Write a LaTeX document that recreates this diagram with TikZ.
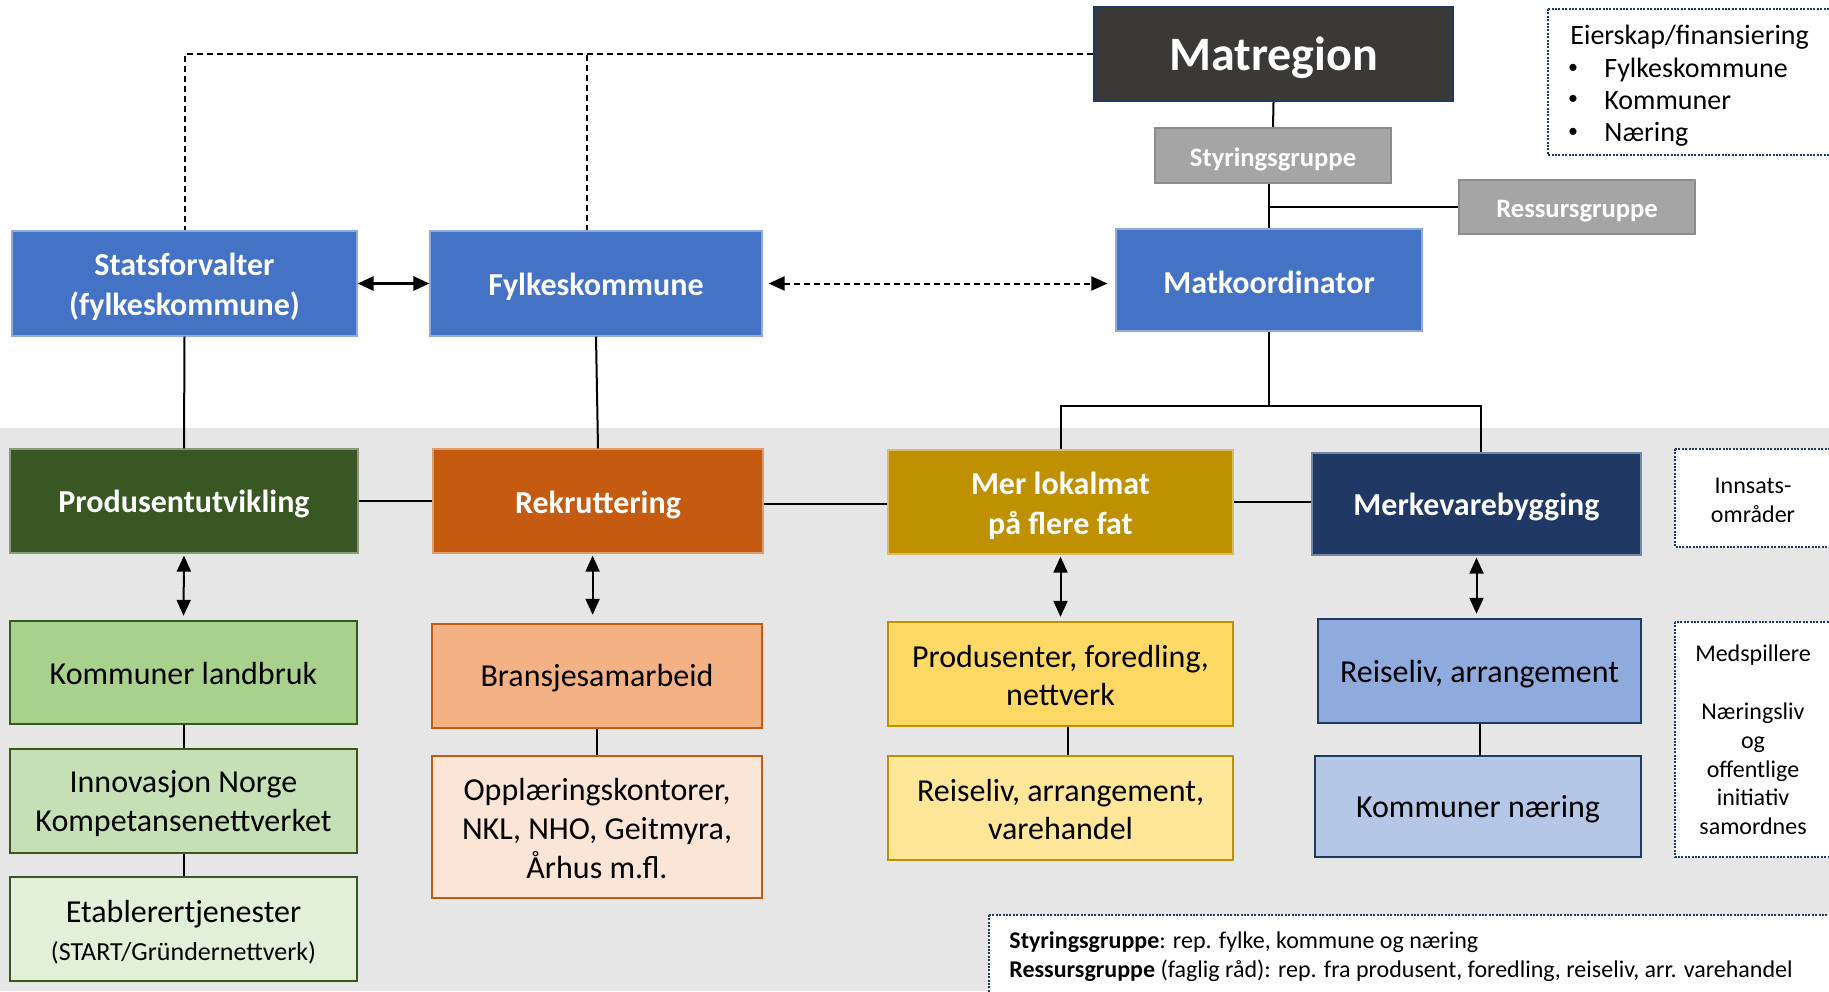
\documentclass[tikz,border=0pt]{standalone}
\usepackage{fontspec}
\setmainfont{Carlito}
\usetikzlibrary{arrows.meta}
\definecolor{bggray}{HTML}{E7E6E6}
\definecolor{mblue}{HTML}{4472C4}
\definecolor{mdark}{HTML}{3B3838}
\definecolor{mnavy}{HTML}{203864}
\definecolor{mgray}{HTML}{A5A5A5}
\definecolor{mgrayb}{HTML}{8C8C8C}
\definecolor{mgreen}{HTML}{385723}
\definecolor{morange}{HTML}{C55A11}
\definecolor{mgold}{HTML}{BF9000}
\definecolor{gA}{HTML}{A9D18E}
\definecolor{gB}{HTML}{C5E0B4}
\definecolor{gC}{HTML}{E2F0D9}
\definecolor{oA}{HTML}{F4B183}
\definecolor{oB}{HTML}{FBE5D6}
\definecolor{yA}{HTML}{FFD966}
\definecolor{yB}{HTML}{FFE699}
\definecolor{bA}{HTML}{8FAADC}
\definecolor{bB}{HTML}{B4C7E7}
\newcommand{\fsz}[2]{\fontsize{#1}{#2}\selectfont}
% #1 name, #2 box style, #3 position, #4 size {w}{h}, #5 text style, #6 text shift (pt, down), #7 text
\newcommand{\mybox}[7]{%
  \node[#2, wh=#4] (#1) at #3 {};
  \node[#5] (#1-t) at ([yshift=-#6pt]#1.center) {#7};}
\tikzset{
  wh/.style 2 args={minimum width=#1*0.5pt, minimum height=#2*0.5pt},
  basebox/.style={rectangle, inner sep=0pt},
  topbox/.style={basebox, fill=#1, draw=#1!60!white, line width=0.6pt},
  lowbox/.style 2 args={basebox, fill=#1, draw=#2, line width=1.2pt},
  graybox/.style={basebox, fill=mgray, draw=mgrayb, line width=1.2pt},
  toptext/.style={inner sep=0pt, align=center, text=white, font=\bfseries\fsz{16}{20}},
  lowtext/.style={inner sep=0pt, align=center, text=black, font=\fsz{16}{19.3}},
  graytext/.style={inner sep=0pt, text=white, font=\bfseries\fsz{13.3}{16}},
  infobox/.style={rectangle, fill=white, draw=mnavy, line width=1pt, dash pattern=on 1pt off 0.7pt},
  conn/.style={draw=black, line width=1pt},
  dconn/.style={draw=black, line width=1pt, dash pattern=on 3pt off 2pt},
  dtip/.style={{Triangle[length=8pt,width=7pt]}-{Triangle[length=8pt,width=7pt]}},
  infotext/.style={inner sep=0pt, align=center, font=\fsz{12}{14.4}},
  eiertext/.style={anchor=west, inner sep=0pt, font=\fsz{14}{16}},
  bul/.style={inner sep=0pt, font=\fsz{10}{12}},
}
\begin{document}
\begin{tikzpicture}[x=0.5pt,y=-0.5pt]
\useasboundingbox (0,0) rectangle (1829,991);
\fill[bggray] (0,428) rectangle (1829,991);

% info boxes
\draw[infobox] (1548,9) rectangle (1840,155);
\node[eiertext] (eiert) at (1570,37) {Eierskap/finansiering};
\node[bul] (eb1) at (1573,69) {\textbullet};
\node[bul] (eb2) at (1573,100) {\textbullet};
\node[bul] (eb3) at (1573,133) {\textbullet};
\node[eiertext] (ei1) at (1604,70) {Fylkeskommune};
\node[eiertext] (ei2) at (1604,101) {Kommuner};
\node[eiertext] (ei3) at (1604,134) {Næring};

\draw[infobox] (1675,449) rectangle (1833,547);
\node[infotext] (innst) at (1753,500) {Innsats-\\områder};
\draw[infobox] (1675,622) rectangle (1833,857);
\node[infotext] (medt) at (1753,740) {Medspillere\\\mbox{}\\Næringsliv\\og\\offentlige\\initiativ\\samordnes};

\draw[infobox] (989,915) rectangle (1840,1000);
\node[anchor=north west, inner sep=0pt, align=left, font=\fsz{12}{14.6}] (note) at (1009,931)
  {\textbf{Styringsgruppe}: rep. fylke, kommune og næring\\\textbf{Ressursgruppe} (faglig råd): rep. fra produsent, foredling, reiseliv, arr. varehandel};

% top nodes
\mybox{matr}{basebox, fill=mdark, draw=mnavy, line width=1.2pt}{(1273.5,54)}{{359}{94}}{inner sep=0pt, text=white, font=\bfseries\fsz{24}{28}}{1.8}{Matregion}
\mybox{styr}{graybox}{(1273,155.5)}{{236}{55}}{graytext}{1.9}{Styringsgruppe}
\mybox{ress}{graybox}{(1577,207)}{{236}{54}}{graytext}{2}{Ressursgruppe}
\mybox{stat}{topbox=mblue}{(184.5,283.5)}{{345}{105}}{toptext}{1.6}{Statsforvalter\\(fylkeskommune)}
\mybox{fylk}{topbox=mblue}{(596,283.5)}{{332}{105}}{toptext}{1.4}{Fylkeskommune}
\mybox{matk}{topbox=mblue}{(1269,280)}{{306}{102}}{toptext}{1.2}{Matkoordinator}

% innsatsomraader
\mybox{prod}{topbox=mgreen}{(184,501)}{{348}{104}}{toptext}{1.6}{Produsentutvikling}
\mybox{rekr}{topbox=morange}{(598,501)}{{330}{104}}{toptext}{1.8}{Rekruttering}
\mybox{merl}{topbox=mgold}{(1060.5,502)}{{345}{104}}{toptext}{1.8}{Mer lokalmat\\på flere fat}
\mybox{merk}{topbox=mnavy}{(1476.5,504)}{{329}{102}}{toptext}{1.6}{Merkevarebygging}

% medspillere
\mybox{koml}{lowbox={gA}{mgreen}}{(183.5,672.5)}{{347}{103}}{lowtext}{0.7}{Kommuner landbruk}
\mybox{inno}{lowbox={gB}{mgreen}}{(183.5,801)}{{347}{104}}{lowtext}{1.4}{Innovasjon Norge\\Kompetansenettverket}
\mybox{etab}{lowbox={gC}{mgreen}}{(183.5,929)}{{347}{104}}{lowtext}{1.6}{Etablerertjenester\\{\fsz{13}{18}(START/Gründernettverk)}}
\mybox{bran}{lowbox={oA}{morange}}{(597,676)}{{330}{104}}{lowtext}{1.2}{Bransjesamarbeid}
\mybox{oppl}{lowbox={oB}{morange}}{(597,827)}{{330}{142}}{lowtext}{0.8}{Opplæringskontorer,\\NKL, NHO, Geitmyra,\\Århus m.fl.}
\mybox{prfo}{lowbox={yA}{mgold}}{(1060.5,674)}{{345}{104}}{lowtext}{0.8}{Produsenter, foredling,\\nettverk}
\mybox{revh}{lowbox={yB}{mgold}}{(1060.5,808)}{{345}{104}}{lowtext}{0.8}{Reiseliv, arrangement,\\varehandel}
\mybox{rear}{lowbox={bA}{mnavy}}{(1479.5,671)}{{323}{104}}{lowtext}{1.6}{Reiseliv, arrangement}
\mybox{komn}{lowbox={bB}{mnavy}}{(1478,806.5)}{{326}{101}}{lowtext}{1.6}{Kommuner næring}

% dashed ownership lines
\coordinate (dj) at (587,55);
\draw[dconn] (matr.west) -| (stat.north);
\draw[dconn] (dj) -- (dj |- fylk.north);

% top connectors
\draw[conn, dtip, line width=1.5pt] (stat.east) -- (fylk.west);
\draw[dconn, dtip, shorten <=3pt, shorten >=4pt] (fylk.east) -- (fylk.east -| matk.west);
\draw[conn] (matr.south) -- (styr.north);
\draw[conn] (styr.south -| matk.north) -- (matk.north);
\draw[conn] (matk.north |- ress.west) -- (ress.west);
\coordinate (mj) at (1269,406);
\coordinate (mk) at ([xshift=2pt]merk.north);
\draw[conn] (matk.south) -- (mj);
\draw[conn] (merl.north) |- (mj) -| (mk);
\draw[conn] (stat.south) -- (prod.north);
\draw[conn] (fylk.south) -- (rekr.north);

% horizontal links
\draw[conn] (prod.east) -- (rekr.west);
\draw[conn] ([yshift=-1.5pt]rekr.east) -- ([yshift=-1.5pt]rekr.east -| merl.west);
\draw[conn] (merl.east) -- (merl.east -| merk.west);

% vertical arrows
\coordinate (ra) at ([xshift=-2.7pt]rekr.south);
\draw[conn, dtip, shorten <=1pt, shorten >=2pt] (prod.south) -- (koml.north);
\draw[conn, dtip, shorten <=1pt, shorten >=4pt] (ra) -- (ra |- bran.north);
\draw[conn, dtip, shorten <=1pt, shorten >=2pt] (merl.south) -- (prfo.north);
\draw[conn, dtip, shorten <=1pt, shorten >=2pt] (merk.south) -- (merk.south |- rear.north);

% lower links
\coordinate (pf) at ([xshift=3.5pt]prfo.south);
\draw[conn] (koml.south) -- (inno.north);
\draw[conn] (inno.south) -- (etab.north);
\draw[conn] (bran.south) -- (oppl.north);
\draw[conn] (pf) -- (pf |- revh.north);
\draw[conn] (rear.south) -- (rear.south |- komn.north);
\end{tikzpicture}
\end{document}
